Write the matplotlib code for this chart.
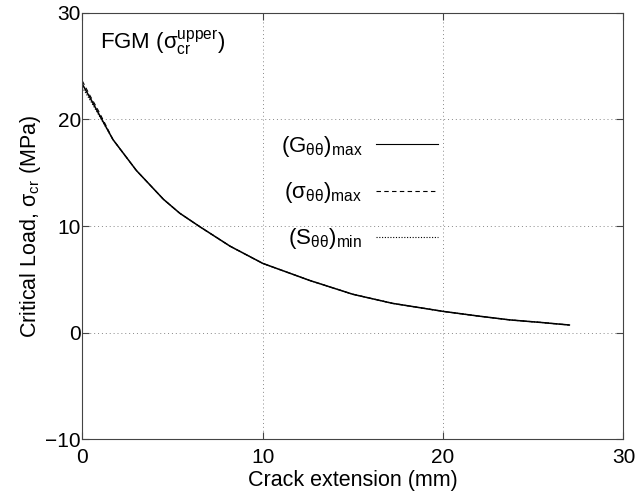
import numpy as np
import matplotlib.pyplot as plt

plt.rcParams['font.family'] = ['Liberation Sans', 'DejaVu Sans']
plt.rcParams['mathtext.fontset'] = 'custom'
plt.rcParams['mathtext.rm'] = 'Liberation Sans'
plt.rcParams['mathtext.it'] = 'Liberation Sans:italic'

# crack extension (mm) and critical load (MPa)
x_G = [0, 0.5, 1.0, 1.7, 3.0, 4.5, 5.4, 6.5, 8.2, 10.0, 12.6, 15.0, 17.2, 20.0, 22.0, 23.7, 25.5, 27.0]
y_G = [23.3, 21.8, 20.25, 18.1, 15.2, 12.5, 11.2, 9.95, 8.1, 6.5, 4.9, 3.6, 2.75, 2.0, 1.55, 1.2, 0.95, 0.72]

x_sig = [0, 0.4, 0.8, 1.2, 1.7, 3.0, 4.5, 5.4, 6.5, 8.2, 10.0, 12.6, 15.0, 17.2, 20.0, 22.0, 23.7, 25.5, 27.0]
y_sig = [23.6, 22.3, 21.1, 19.8, 18.1, 15.2, 12.5, 11.2, 9.95, 8.1, 6.5, 4.9, 3.6, 2.75, 2.0, 1.55, 1.2, 0.95, 0.72]

x_S = [0, 0.5, 1.0, 1.7, 3.0, 4.5, 5.4, 6.5, 8.2, 10.0, 12.6, 15.0, 17.2, 20.0, 22.0, 23.7, 25.5, 27.0]
y_S = [23.0, 21.6, 20.15, 18.1, 15.2, 12.5, 11.2, 9.95, 8.1, 6.5, 4.9, 3.6, 2.75, 2.0, 1.55, 1.2, 0.95, 0.72]

labels = [r'(G$_{\mathrm{θθ}}$)$_{\mathrm{max}}$',
          r'(σ$_{\mathrm{θθ}}$)$_{\mathrm{max}}$',
          r'(S$_{\mathrm{θθ}}$)$_{\mathrm{min}}$']

fig = plt.figure(figsize=(6.36, 4.96), dpi=100)
ax = fig.add_axes([0.1294, 0.1141, 0.8509, 0.8605])

ax.plot(x_G, y_G, 'k-', linewidth=1.1, label=labels[0])
ax.plot(x_sig, y_sig, 'k--', linewidth=0.8, dashes=(4, 3), label=labels[1])
ax.plot(x_S, y_S, 'k:', linewidth=0.8, dashes=(1, 1.5), label=labels[2])

ax.set_xlim(0, 30)
ax.set_ylim(-10, 30)
ax.set_xticks([0, 10, 20, 30])
ax.set_yticks([-10, 0, 10, 20, 30])
ax.set_yticklabels(['\u221210', '0', '10', '20', '30'])
ax.grid(True, linestyle=(0, (1, 3)), color='#888888', linewidth=0.7)
ax.tick_params(direction='in', top=True, right=True, labelsize=15, length=5, pad=1, color='#444444')
ax.tick_params(axis='x', pad=6)
for s in ax.spines.values():
    s.set_color('#444444')
    s.set_linewidth(0.8)

ax.set_xlabel('Crack extension (mm)', fontsize=15.5, labelpad=2)
ax.set_ylabel(r'Critical Load, σ$_{\mathrm{cr}}$ (MPa)', fontsize=15.5, labelpad=2)

ax.text(1.0, 27.2, r'FGM (σ$_{\mathrm{cr}}^{\mathrm{upper}}$)', fontsize=16, va='center', ha='left')

leg = ax.legend(loc='upper right', bbox_to_anchor=(0.657, 0.715), frameon=False, markerfirst=False,
                fontsize=16, handlelength=2.8, labelspacing=0.95, handletextpad=0.6,
                borderpad=0, borderaxespad=0)
for h in leg.get_lines():
    h.set_linewidth(0.8)

fig.savefig('out.png', dpi=100)
